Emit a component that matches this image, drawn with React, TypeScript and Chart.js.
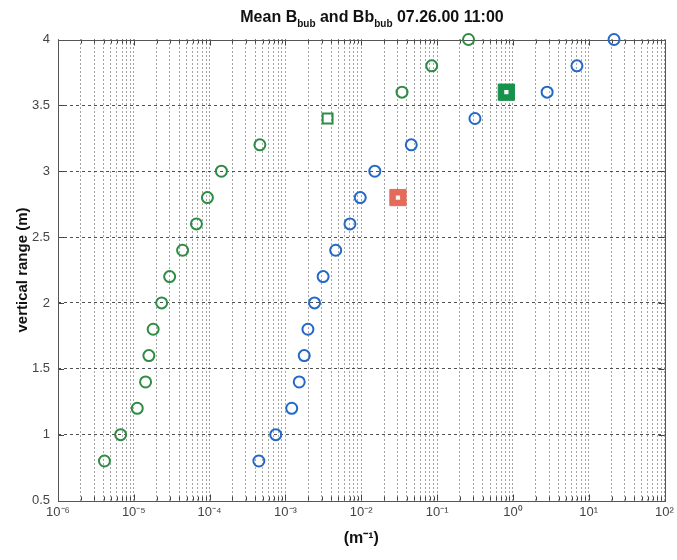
import React, { useEffect, useRef } from "react";
import { Chart, registerables } from "chart.js";

Chart.register(...registerables);

// ---- data ----
const depthLevels = [0.8, 1.0, 1.2, 1.4, 1.6, 1.8, 2.0, 2.2, 2.4, 2.6, 2.8, 3.0, 3.2, 3.4, 3.6, 3.8, 4.0];
const bubValues = [4.1e-6, 6.7e-6, 1.11e-5, 1.43e-5, 1.58e-5, 1.8e-5, 2.33e-5, 2.97e-5, 4.4e-5, 6.7e-5, 9.35e-5, 1.43e-4, 4.6e-4, 3.6e-3, 0.0345, 0.085, 0.26];
const bbBubValues = [4.46e-4, 7.45e-4, 1.21e-3, 1.52e-3, 1.77e-3, 1.98e-3, 2.42e-3, 3.14e-3, 4.6e-3, 7.1e-3, 9.7e-3, 0.0151, 0.0457, 0.316, 2.83, 7.0, 21.6];
const bubMarkers = ["circle", "circle", "circle", "circle", "circle", "circle", "circle", "circle", "circle", "circle", "circle", "circle", "circle", "rect", "circle", "circle", "circle"];
const redSquareX = [0.0305];
const redSquareY = [2.8];
const greenSquareX = [0.82];
const greenSquareY = [3.6];

const xDecades = [-6, -5, -4, -3, -2, -1, 0, 1, 2];
const xMinorMultipliers = [1, 2, 3, 4, 5, 6, 7, 8, 9];
const yTickValues = [0.5, 1, 1.5, 2, 2.5, 3, 3.5, 4];

const titleParts: [string, boolean][] = [
  ["Mean B", false],
  ["bub", true],
  [" and Bb", false],
  ["bub", true],
  [" 07.26.00 11:00", false],
];
const yAxisTitle = "vertical range (m)";
const xAxisTitle = "(m\u207B\u00B9)";

// ---- helpers ----
const SUP: Record<string, string> = {
  "-": "\u207B", "0": "\u2070", "1": "\u00B9", "2": "\u00B2", "3": "\u00B3",
  "4": "\u2074", "5": "\u2075", "6": "\u2076", "7": "\u2077", "8": "\u2078", "9": "\u2079",
};
const sup = (s: string) => s.split("").map((c) => SUP[c] ?? c).join("");

const xTickList: number[] = [];
xDecades.forEach((e, i) => {
  if (i === xDecades.length - 1) {
    xTickList.push(Math.pow(10, e));
  } else {
    xMinorMultipliers.forEach((m) => xTickList.push(Number((m * Math.pow(10, e)).toPrecision(3))));
  }
});
const isPow10 = (v: number) => {
  const l = Math.log10(v);
  return Math.abs(l - Math.round(l)) < 1e-9;
};

const FONT = "'Liberation Sans', Arial, Helvetica, sans-serif";

const framePlugin = {
  id: "frame",
  beforeDatasetsDraw(chart: any) {
    const { ctx, chartArea: a, scales } = chart;
    ctx.save();
    ctx.setLineDash([]);
    ctx.strokeStyle = "#444";
    ctx.lineWidth = 1;
    const xs = scales.x;
    xTickList.forEach((v) => {
      const px = Math.round(xs.getPixelForValue(v)) + 0.5;
      const len = isPow10(v) ? 6 : 4;
      ctx.beginPath();
      ctx.moveTo(px, a.bottom);
      ctx.lineTo(px, a.bottom - len);
      ctx.moveTo(px, a.top);
      ctx.lineTo(px, a.top + len);
      ctx.stroke();
    });
    const ys = scales.y;
    yTickValues.forEach((v) => {
      const py = Math.round(ys.getPixelForValue(v)) + 0.5;
      ctx.beginPath();
      ctx.moveTo(a.left, py);
      ctx.lineTo(a.left + 6, py);
      ctx.moveTo(a.right, py);
      ctx.lineTo(a.right - 6, py);
      ctx.stroke();
    });
    ctx.strokeStyle = "#555";
    ctx.strokeRect(Math.round(a.left) + 0.5, Math.round(a.top) + 0.5, Math.round(a.right - a.left), Math.round(a.bottom - a.top));
    ctx.restore();
  },
};

const titlePlugin = {
  id: "subTitle",
  afterDraw(chart: any) {
    const { ctx } = chart;
    ctx.save();
    const mainFont = `bold 16px ${FONT}`;
    const subFont = `bold 10px ${FONT}`;
    let total = 0;
    titleParts.forEach(([t, s]) => {
      ctx.font = s ? subFont : mainFont;
      total += ctx.measureText(t).width;
    });
    let x = 372 - total / 2;
    const baseY = 22;
    ctx.fillStyle = "#111";
    ctx.textBaseline = "alphabetic";
    ctx.textAlign = "left";
    titleParts.forEach(([t, s]) => {
      ctx.font = s ? subFont : mainFont;
      ctx.fillText(t, x, s ? baseY + 5 : baseY);
      x += ctx.measureText(t).width;
    });
    ctx.restore();
  },
};

export default function App() {
  const ref = useRef<HTMLCanvasElement>(null);

  useEffect(() => {
    if (!ref.current) return;
    const chart = new Chart(ref.current, {
      type: "scatter",
      data: {
        datasets: [
          {
            label: "centers",
            order: 0,
            data: [
              ...redSquareX.map((x, i) => ({ x, y: redSquareY[i] })),
              ...greenSquareX.map((x, i) => ({ x, y: greenSquareY[i] })),
            ],
            pointStyle: "rect",
            pointRadius: 3,
            borderColor: "#f4f4f4",
            backgroundColor: "#f4f4f4",
            borderWidth: 0,
          },
          {
            label: "red",
            order: 1,
            data: redSquareX.map((x, i) => ({ x, y: redSquareY[i] })),
            pointStyle: "rect",
            pointRadius: 11.5,
            borderColor: "#e46a5a",
            backgroundColor: "#e46a5a",
            borderWidth: 1,
          },
          {
            label: "green",
            order: 1,
            data: greenSquareX.map((x, i) => ({ x, y: greenSquareY[i] })),
            pointStyle: "rect",
            pointRadius: 11.5,
            borderColor: "#17924c",
            backgroundColor: "#17924c",
            borderWidth: 1,
          },
          {
            label: "Bbub",
            order: 2,
            data: depthLevels.map((y, i) => ({ x: bubValues[i], y })),
            pointStyle: bubMarkers as any,
            pointRadius: bubMarkers.map((m) => (m === "rect" ? 7 : 5.5)),
            borderColor: "#2f8c45",
            backgroundColor: "rgba(0,0,0,0)",
            borderWidth: 2,
            clip: false as any,
          },
          {
            label: "Bbbub",
            order: 2,
            data: depthLevels.map((y, i) => ({ x: bbBubValues[i], y })),
            pointStyle: "circle",
            pointRadius: 5.5,
            borderColor: "#2468c8",
            backgroundColor: "rgba(0,0,0,0)",
            borderWidth: 2,
            clip: false as any,
          },
        ],
      },
      options: {
        responsive: false,
        animation: false,
        events: [],
        layout: { padding: { left: 0, right: 9, top: 39.5, bottom: 0 } },
        plugins: {
          legend: { display: false },
          tooltip: { enabled: false },
          title: { display: false },
        },
        scales: {
          x: {
            type: "logarithmic",
            min: 1e-6,
            max: 100,
            afterBuildTicks: (scale: any) => {
              scale.ticks = xTickList.map((v) => ({ value: v, major: isPow10(v) }));
            },
            afterFit: (scale: any) => {
              scale.height = 59.5;
              scale.paddingLeft = 0;
              scale.paddingRight = 0;
            },
            ticks: {
              autoSkip: false,
              maxRotation: 0,
              minRotation: 0,
              padding: 4,
              color: "#444",
              font: { family: FONT, size: 13 },
              callback: (v: any) => {
                const n = Number(v);
                if (!isPow10(n)) return "";
                return "10" + sup(String(Math.round(Math.log10(n))));
              },
            },
            grid: {
              drawTicks: false,
              color: "rgba(40,40,40,0.85)",
              lineWidth: 1,
            },
            border: { display: false, dash: [1, 3] },
            title: {
              display: true,
              text: xAxisTitle,
              color: "#111",
              font: { family: FONT, size: 16, weight: "bold" },
              padding: { top: 0, bottom: 12 },
            },
          },
          y: {
            type: "linear",
            min: 0.5,
            max: 4,
            afterBuildTicks: (scale: any) => {
              scale.ticks = yTickValues.map((v) => ({ value: v }));
            },
            afterFit: (scale: any) => {
              scale.width = 58;
              scale.paddingTop = 0;
              scale.paddingBottom = 0;
            },
            ticks: {
              padding: 8,
              color: "#444",
              font: { family: FONT, size: 13 },
              callback: (v: any) => String(Number(v)),
            },
            grid: {
              drawTicks: false,
              color: (c: any) => (c.tick && (c.tick.value === 0.5 || c.tick.value === 4) ? "rgba(0,0,0,0)" : "rgba(50,50,50,0.85)"),
              lineWidth: 1,
            },
            border: { display: false, dash: [3, 3] },
            title: {
              display: true,
              text: yAxisTitle,
              color: "#111",
              font: { family: FONT, size: 15, weight: "bold" },
              padding: { top: 14, bottom: 0 },
            },
          },
        },
      },
      plugins: [framePlugin, titlePlugin],
    });
    return () => chart.destroy();
  }, []);

  return (
    <div style={{ position: "absolute", left: 0, top: 0, width: 677, height: 560, background: "#fff" }}>
      <canvas ref={ref} width={677} height={560} style={{ display: "block" }} />
    </div>
  );
}
